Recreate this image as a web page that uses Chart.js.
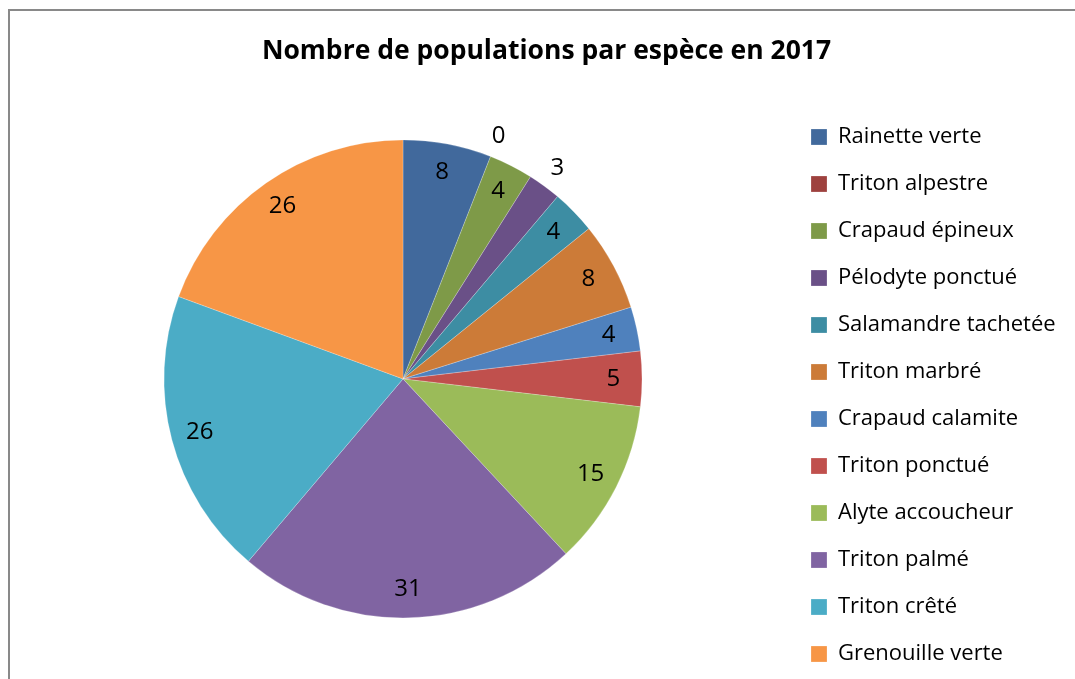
<!DOCTYPE html>
<html>
<head>
<meta charset="utf-8">
<script src="https://cdn.jsdelivr.net/npm/chart.js@4"></script>
<style>
  html, body { margin: 0; padding: 0; background: #fff; overflow: hidden; }
  #wrap { position: relative; width: 1075px; height: 679px; overflow: hidden; }
  #frame { position: absolute; left: 8px; top: 9px; width: 1200px; height: 800px;
           border-left: 2px solid #898989; border-top: 2px solid #898989; pointer-events: none; }
  #chart-box { position: absolute; left: 0; top: 0; width: 1075px; height: 690px; }
</style>
</head>
<body>
<div id="wrap">
  <div id="chart-box"><canvas id="pie-chart"></canvas></div>
  <div id="frame"></div>
</div>
<script>
// species and counts
const species = ['Rainette verte', 'Triton alpestre', 'Crapaud épineux', 'Pélodyte ponctué',
    'Salamandre tachetée', 'Triton marbré', 'Crapaud calamite', 'Triton ponctué',
    'Alyte accoucheur', 'Triton palmé', 'Triton crêté', 'Grenouille verte'];
const counts = [8, 0, 4, 3, 4, 8, 4, 5, 15, 31, 26, 26];
const sliceColors = ['#41699C', '#9E413E', '#7E9A48', '#6A5087', '#3D8DA3', '#CC7B38',
    '#4F81BD', '#C0504D', '#9BBB59', '#8064A2', '#4BACC6', '#F79646'];
const chartTitle = 'Nombre de populations par espèce en 2017';

const FONT = "'Open Sans', 'Noto Sans', sans-serif";

// value labels: inside the slice, pushed outside for the thin ones
const valueLabels = {
    id: 'valueLabels',
    afterDatasetsDraw(chart) {
        const ctx = chart.ctx;
        const meta = chart.getDatasetMeta(0);
        ctx.save();
        ctx.font = `24px ${FONT}`;
        ctx.fillStyle = '#000';
        ctx.textAlign = 'center';
        ctx.textBaseline = 'middle';
        meta.data.forEach((arc, i) => {
            const { x, y, startAngle, endAngle, outerRadius } = arc.getProps(['x', 'y', 'startAngle', 'endAngle', 'outerRadius'], true);
            const mid = (startAngle + endAngle) / 2;
            const r = counts[i] < 4 ? outerRadius + 22 : outerRadius * 0.88;
            ctx.fillText(String(counts[i]), x + Math.cos(mid) * r, y + Math.sin(mid) * r);
        });
        ctx.restore();
    }
};

// keep the legend column at a fixed width so the pie stays put
const legendWidth = {
    id: 'legendWidth',
    beforeInit(chart) {
        const origFit = chart.legend.fit;
        chart.legend.fit = function () {
            origFit.call(this);
            this.width = 287;
        };
    }
};

new Chart(document.getElementById('pie-chart'), {
    type: 'pie',
    data: {
        labels: species,
        datasets: [{
            data: counts,
            backgroundColor: sliceColors,
            borderColor: 'rgba(255,255,255,0.45)',
            borderWidth: 0.5,
            radius: 239
        }]
    },
    options: {
        responsive: true,
        maintainAspectRatio: false,
        animation: false,
        layout: { padding: { left: 20, right: 2, top: 0, bottom: 0 } },
        plugins: {
            title: {
                display: true,
                text: chartTitle,
                color: '#000',
                font: { family: FONT, size: 26.5, weight: 'bold' },
                padding: { top: 36, bottom: 0 }
            },
            legend: {
                position: 'right',
                align: 'end',
                labels: {
                    boxWidth: 16,
                    boxHeight: 16,
                    padding: 25,
                    color: '#000',
                    font: { family: FONT, size: 22 }
                }
            },
            tooltip: { enabled: false }
        }
    },
    plugins: [valueLabels, legendWidth]
});
</script>
</body>
</html>
